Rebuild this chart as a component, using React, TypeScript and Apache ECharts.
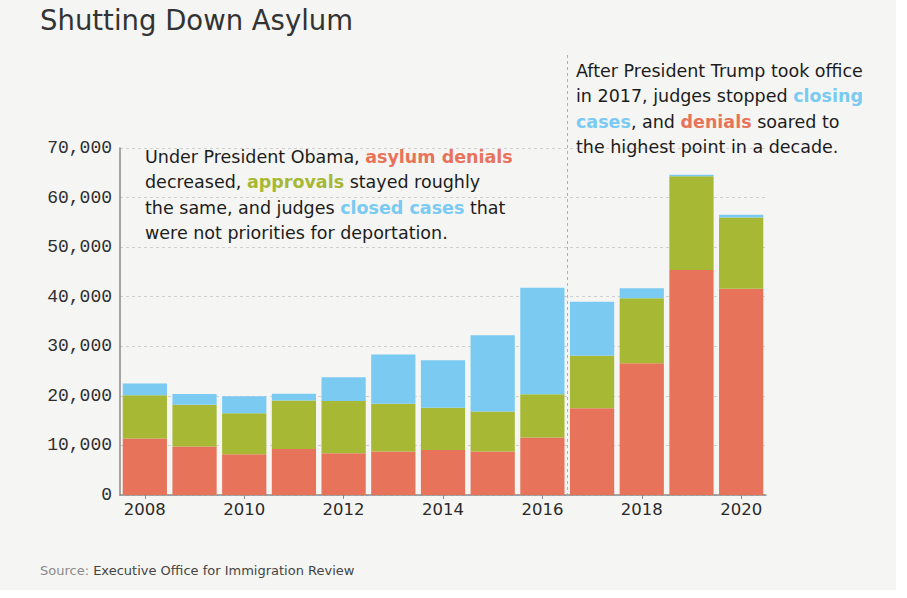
import React, { useEffect, useRef } from "react";
import * as echarts from "echarts";

const years = ["2008", "2009", "2010", "2011", "2012", "2013", "2014", "2015", "2016", "2017", "2018", "2019", "2020"];
const denials = [11400, 9800, 8200, 9300, 8400, 8800, 9100, 8800, 11600, 17500, 26600, 45400, 41600];
const approvals = [8700, 8400, 8300, 9750, 10550, 9600, 8500, 8050, 8700, 10600, 13100, 18900, 14400];
const closed = [2400, 2150, 3400, 1400, 4800, 9950, 9600, 15400, 21500, 10900, 2000, 300, 550];

const RED = "#e7735a";
const GREEN = "#a6b834";
const BLUE = "#7acaf2";
const TEXT = "#1c1c1c";
const FONT = "'DejaVu Sans', 'Liberation Sans', Arial, sans-serif";

export default function App() {
  const ref = useRef<HTMLDivElement>(null);
  useEffect(() => {
    if (!ref.current) return;
    const chart = echarts.init(ref.current, null, { renderer: "svg" });
    const baseRich = (color: string, bold: boolean) => ({
      fontSize: 17.5,
      fontFamily: FONT,
      fontWeight: bold ? ("bold" as const) : ("normal" as const),
      fill: color,
      lineHeight: 25.5,
    });
    const rich = {
      n: baseRich(TEXT, false),
      r: baseRich(RED, true),
      g: baseRich(GREEN, true),
      b: baseRich(BLUE, true),
    };
    const barSeries = (name: string, data: number[], color: string) => ({
      name,
      type: "bar",
      stack: "total",
      data,
      barCategoryGap: "11%",
      itemStyle: { color },
      emphasis: { disabled: true },
    });
    chart.setOption({
      animation: false,
      backgroundColor: "#f5f5f3",
      grid: { left: 120, right: 130, top: 148, bottom: 95 },
      xAxis: {
        type: "category",
        data: years,
        axisLine: { show: true, lineStyle: { color: "#8a8a8a", width: 1.5 } },
        axisTick: { show: true, alignWithLabel: true, interval: 1, length: 4, lineStyle: { color: "#8a8a8a" } },
        axisLabel: { interval: 1, color: "#2a2a2a", fontSize: 16.5, fontFamily: FONT, margin: 6 },
      },
      yAxis: {
        type: "value",
        min: 0,
        max: 70000,
        interval: 10000,
        axisLine: { show: true, lineStyle: { color: "#8a8a8a", width: 1.5 } },
        axisTick: { show: false },
        splitLine: { show: true, lineStyle: { color: "#cfcfcf", type: [3, 3] } },
        axisLabel: {
          color: "#2e2e2e",
          fontSize: 18,
          fontFamily: "'Liberation Mono', monospace",
          margin: 8,
          formatter: (v: number) => v.toLocaleString("en-US"),
        },
      },
      series: [
        barSeries("Denials", denials, RED),
        barSeries("Approvals", approvals, GREEN),
        barSeries("Closed", closed, BLUE),
      ],
      graphic: [
        {
          type: "text",
          left: 40,
          top: 6,
          style: { text: "Shutting Down Asylum", fontSize: 27.5, fontFamily: FONT, fill: "#333" },
        },
        {
          type: "line",
          shape: { x1: 567.5, y1: 55, x2: 567.5, y2: 495 },
          style: { stroke: "#b0b0b0", lineWidth: 1, lineDash: [3, 3] },
          z: 10,
        },
        {
          type: "text",
          x: 145,
          y: 144,
          style: {
            text:
              "{n|Under President Obama, }{r|asylum denials}\n" +
              "{n|decreased, }{g|approvals}{n| stayed roughly}\n" +
              "{n|the same, and judges }{b|closed cases}{n| that}\n" +
              "{n|were not priorities for deportation.}",
            rich,
            verticalAlign: "top",
          },
          z: 20,
        },
        {
          type: "text",
          x: 576,
          y: 58,
          style: {
            text:
              "{n|After President Trump took office}\n" +
              "{n|in 2017, judges stopped }{b|closing}\n" +
              "{b|cases}{n|, and }{r|denials}{n| soared to}\n" +
              "{n|the highest point in a decade.}",
            rich,
            verticalAlign: "top",
          },
          z: 20,
        },
        {
          type: "text",
          left: 40,
          top: 564,
          style: {
            text: "{s|Source: }{t|Executive Office for Immigration Review}",
            rich: {
              s: { fontSize: 13, fontFamily: FONT, fill: "#8a8a8a" },
              t: { fontSize: 13, fontFamily: FONT, fill: "#444" },
            },
          },
        },
      ],
    });
    return () => chart.dispose();
  }, []);
  return (
    <div style={{ position: "absolute", left: 0, top: 0, width: 907, height: 598, background: "#ffffff" }}>
      <div ref={ref} style={{ width: 896, height: 590 }} />
    </div>
  );
}
